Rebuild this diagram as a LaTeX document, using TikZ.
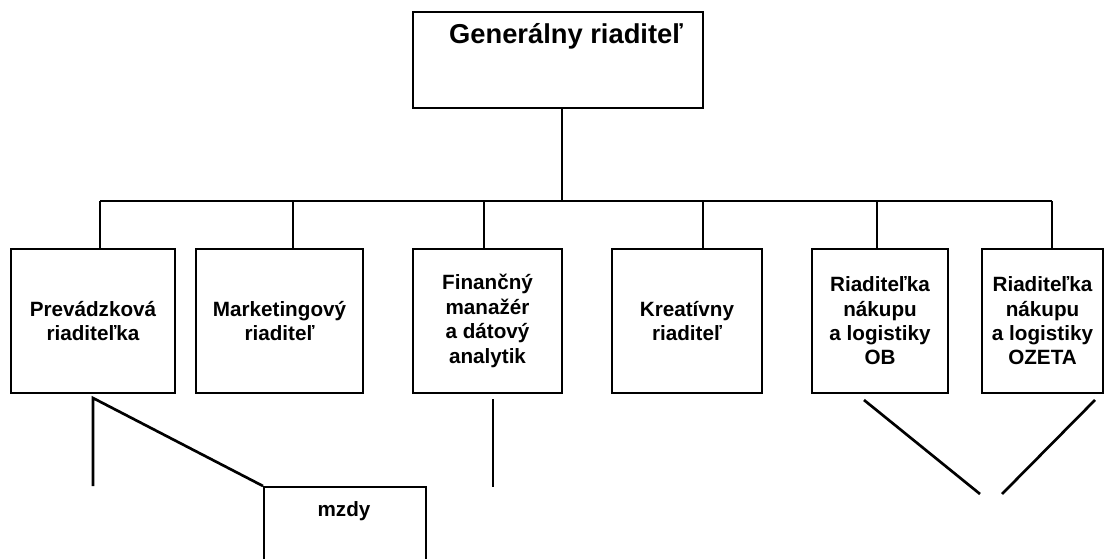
\documentclass[tikz,border=0pt]{standalone}
\usepackage{fontspec}
\setmainfont{Liberation Sans}
\begin{document}
\begin{tikzpicture}[x=0.75pt,y=-0.75pt,
  box/.style={draw, line width=1.5pt, inner sep=0pt, align=center,
    font=\bfseries\fontsize{15.5}{18.3}\selectfont},
  titletext/.style={inner sep=0pt, font=\bfseries\fontsize{20.5}{24}\selectfont},
  smalltext/.style={inner sep=0pt, font=\bfseries\fontsize{15.5}{18.3}\selectfont},
  conn/.style={line width=1.4pt},
  diag/.style={line width=2pt}]
\clip (0,0) rectangle (1105,558);
% top box
\node[box, minimum width=217.5pt, minimum height=72pt] (gen) at (558,60) {};
\node[titletext] (gent) at (566,36) {Generálny riaditeľ};
% children
\node[box, minimum width=123pt, minimum height=108pt] (P) at (93,321) {Prevádzková\\riaditeľka};
\node[box, minimum width=125.25pt, minimum height=108pt] (M) at (279.5,321) {Marketingový\\riaditeľ};
\node[box, minimum width=111.75pt, minimum height=108pt] (F) at (487.5,321) {Finančný\\manažér\\a dátový\\analytik};
\node[box, minimum width=112.5pt, minimum height=108pt] (K) at (687,321) {Kreatívny\\riaditeľ};
\node[box, minimum width=102pt, minimum height=108pt] (OB) at (880,321) {Riaditeľka\\nákupu\\a logistiky\\OB};
\node[box, minimum width=90.75pt, minimum height=108pt] (OZ) at (1042.5,321) {Riaditeľka\\nákupu\\a logistiky\\OZETA};
% mzdy (cut by the lower edge)
\node[box, minimum width=121.5pt, minimum height=90pt] (mz) at (345,547) {};
\node[smalltext] (mzt) at (344,511) {mzdy};
% tree connectors
\coordinate (t) at (562,201);
\coordinate (j1) at (100,201);
\coordinate (j2) at (293,201);
\coordinate (j3) at (484,201);
\coordinate (j4) at (703,201);
\coordinate (j5) at (877,201);
\coordinate (j6) at (1052,201);
\draw[conn] (t |- gen.south) -- (t);
\draw[conn] (j1) -- (j6);
\foreach \j/\n in {j1/P, j2/M, j3/F, j4/K, j5/OB, j6/OZ}
  \draw[conn] (\j) -- (\j |- \n.north);
% lower lines
\coordinate (p1) at (93,398);
\coordinate (p2) at (93,486);
\draw[diag] (p2) -- (p1) -- (mz.north west);
\coordinate (f1) at (493,399);
\coordinate (f2) at (493,487);
\draw[diag] (f1) -- (f2);
\coordinate (o1) at (864,400);
\coordinate (o2) at (980,494);
\coordinate (o3) at (1095,400);
\coordinate (o4) at (1002,494);
\draw[diag] (o1) -- (o2);
\draw[diag] (o3) -- (o4);
\end{tikzpicture}
\end{document}
